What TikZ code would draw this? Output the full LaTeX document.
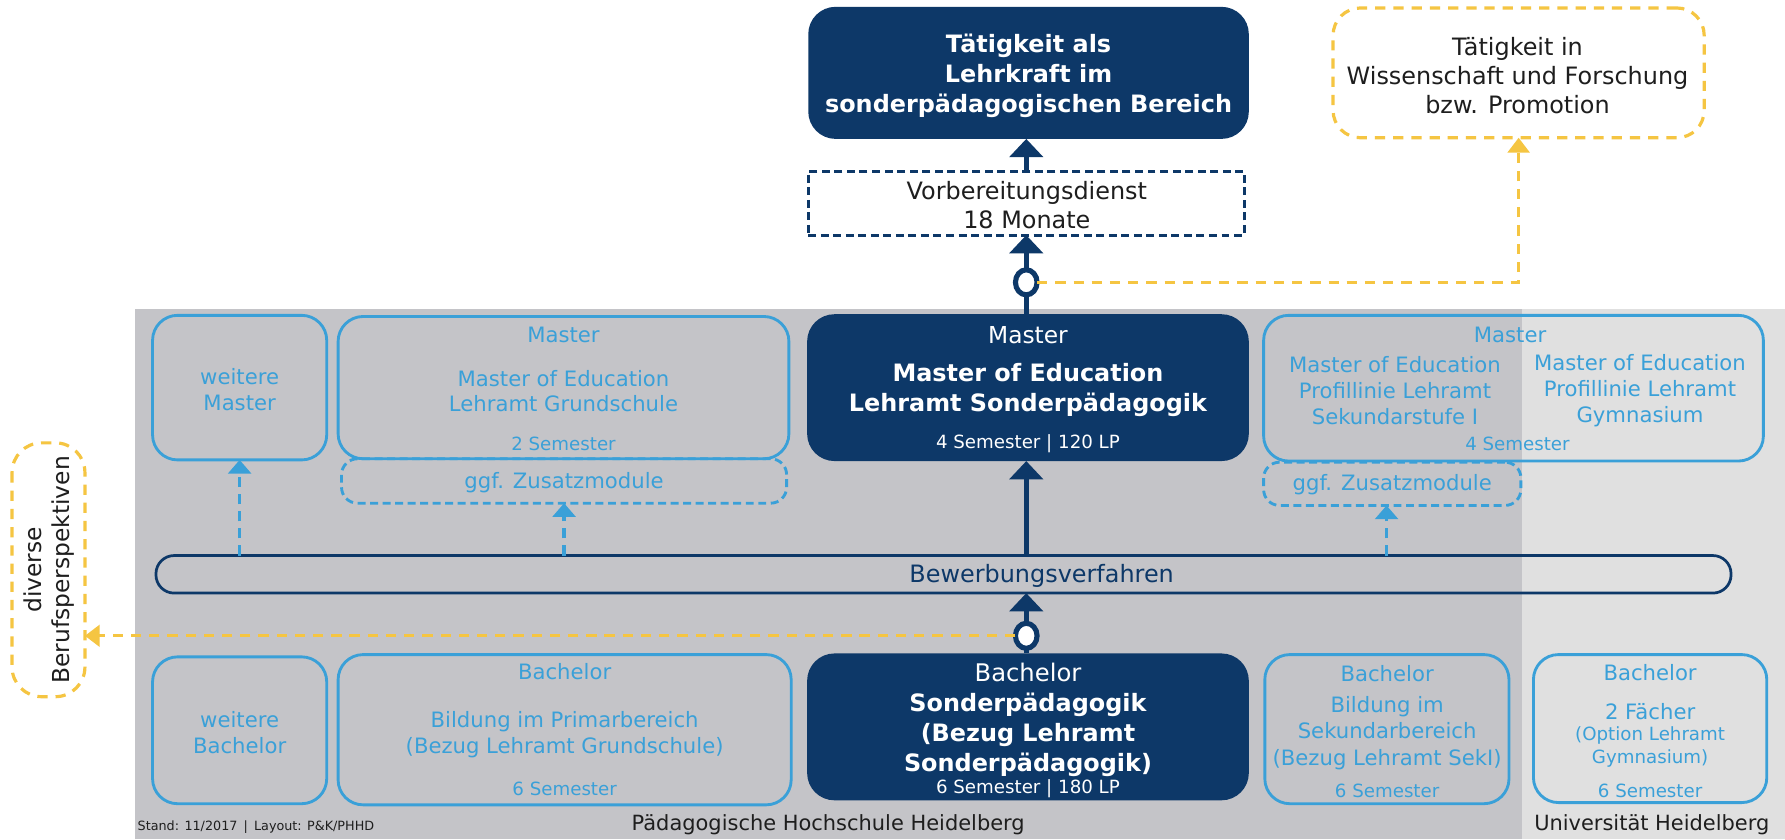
\documentclass[tikz,border=0pt]{standalone}
\usepackage{fontspec}
\setmainfont{DejaVu Sans}
\usetikzlibrary{arrows.meta,shapes.geometric,calc}
\definecolor{navy}{RGB}{13,56,104}
\definecolor{lblue}{RGB}{58,160,216}
\definecolor{bgdark}{RGB}{196,196,200}
\definecolor{bglight}{RGB}{224,224,224}
\definecolor{gold}{RGB}{245,197,66}
\definecolor{ink}{RGB}{30,30,30}
\newcommand{\fsz}[2]{\fontsize{#1}{#2}\selectfont}
\begin{document}
\begin{tikzpicture}[x=1pt,y=-1pt,
  every node/.style={inner sep=0pt,outer sep=0pt},
  lbox/.style={draw=lblue,line width=2.5pt,rounded corners=22pt},
  lbdash/.style={draw=lblue,line width=2.5pt,rounded corners=14pt,dash pattern=on 7pt off 4pt},
  dbox/.style={fill=navy,rounded corners=24pt},
  ybox/.style={draw=gold,line width=2.8pt,rounded corners=24pt,dash pattern=on 9pt off 7pt},
  vbox/.style={draw=navy,line width=2.6pt,dash pattern=on 7pt off 4pt,fill=white},
  bewbox/.style={draw=navy,line width=2.4pt,rounded corners=16pt},
  ring/.style={ellipse,draw=navy,line width=4.5pt,fill=white,minimum width=19pt,minimum height=22pt},
  lt/.style={align=center,text=lblue,font=\fsz{18.6}{22.7}},
  ls/.style={align=center,text=lblue,font=\fsz{16}{20}},
  wb/.style={align=center,text=white,font=\bfseries\fsz{21}{26.5}},
  wr/.style={align=center,text=white,font=\fsz{20.5}{24}},
  ws/.style={align=center,text=white,font=\fsz{16}{20}},
  kt/.style={align=center,text=ink,font=\fsz{21}{25.5}},
  navyline/.style={draw=navy,line width=4pt},
  navyarrow/.style={navyline,-{Triangle[width=29pt,length=16pt]}},
  bluearrow/.style={draw=lblue,line width=2.8pt,dash pattern=on 9pt off 6pt,-{Triangle[width=20pt,length=12pt]}},
  goldarrow/.style={draw=gold,line width=2.8pt,dash pattern=on 9pt off 7pt,-{Triangle[width=19pt,length=13pt]}}
]
\useasboundingbox (0,0) rectangle (1568,737);
\fill[white] (0,0) rectangle (1568,737);
% backgrounds
\fill[bgdark] (118.6,271) rectangle (1568,737);
\fill[bglight] (1337,271) rectangle (1568,737);

% top row
\node[dbox,minimum width=387pt,minimum height=116pt] (top) at (903.5,64) {};
\node[wb] (toptext) at (903.5,66.5) {Tätigkeit als\\Lehrkraft im\\sonderpädagogischen Bereich};
\node[ybox,minimum width=326pt,minimum height=114pt] (yb) at (1334,64) {};
\node[kt] (ybtext) at (1333,66.5) {Tätigkeit in\\Wissenschaft und Forschung\\bzw. Promotion};
\node[vbox,minimum width=383pt,minimum height=56pt] (vorb) at (901.5,178.5) {};
\node[kt] (vorbtext) at (902,180.5) {Vorbereitungsdienst\\18 Monate};

% master row
\node[lbox,minimum width=153pt,minimum height=127pt] (wm) at (210.5,340.5) {};
\node[lt] (wmtext) at (210.5,342.5) {weitere\\Master};

\node[lbox,minimum width=396pt,minimum height=125pt] (gs) at (495,340.5) {};
\node[lt] (gshead) at (495,294) {Master};
\node[lt] (gstext) at (495,343.5) {Master of Education\\Lehramt Grundschule};
\node[ls] (gssem) at (495,390) {2 Semester};
\node[lbdash,minimum width=391pt,minimum height=39pt] (ggf1) at (495.5,422.5) {};
\node[lt] (ggf1text) at (495.5,424) {ggf. Zusatzmodule};

\node[dbox,minimum width=388pt,minimum height=129pt] (dm) at (903,340.5) {};
\node[wr] (dmhead) at (903,294) {Master};
\node[wb] (dmtext) at (903,342.5) {Master of Education\\Lehramt Sonderpädagogik};
\node[ws] (dmsem) at (903,390) {4 Semester | 120 LP};

\node[lbox,minimum width=439pt,minimum height=128pt] (rm) at (1329.5,341) {};
\node[lt] (rmhead) at (1326.5,294) {Master};
\node[lt] (rmleft) at (1225.4,343.3) {Master of Education\\Profillinie Lehramt\\Sekundarstufe I};
\node[lt] (rmright) at (1440.6,343.3) {Master of Education\\Profillinie Lehramt\\Gymnasium};
\node[ls] (rmsem) at (1333,390) {4 Semester};
\node[lbdash,minimum width=226pt,minimum height=38pt] (ggf2) at (1223,425) {};
\node[lt] (ggf2text) at (1223,426) {ggf. Zusatzmodule};

% Bewerbungsverfahren
\node[bewbox,minimum width=1383.6pt,minimum height=33pt] (bew) at (828.8,504.5) {};
\node[align=center,text=navy,font=\fsz{21}{25}] (bewtext) at (915,506) {Bewerbungsverfahren};

% bachelor row
\node[lbox,minimum width=153pt,minimum height=129pt] (wb) at (210.5,641.5) {};
\node[lt] (wbtext) at (210.5,643.5) {weitere\\Bachelor};

\node[lbox,minimum width=398pt,minimum height=132pt] (pb) at (496,641) {};
\node[lt] (pbhead) at (496,590) {Bachelor};
\node[lt] (pbtext) at (496,645) {Bildung im Primarbereich\\(Bezug Lehramt Grundschule)};
\node[ls] (pbsem) at (496,693) {6 Semester};

\node[dbox,minimum width=388pt,minimum height=129pt] (db) at (903,638.5) {};
\node[align=center,text=white,font=\fsz{21.3}{25}] (dbhead) at (903,591) {Bachelor};
\node[wb] (dbtext) at (903,645.5) {Sonderpädagogik\\(Bezug Lehramt\\Sonderpädagogik)};
\node[ws] (dbsem) at (903,693) {6 Semester | 180 LP};

\node[lbox,minimum width=214.5pt,minimum height=131pt] (sb) at (1218.3,640.5) {};
\node[lt] (sbhead) at (1218.5,592) {Bachelor};
\node[lt,font=\fsz{18.6}{23}] (sbtext) at (1218.5,644) {Bildung im\\Sekundarbereich\\(Bezug Lehramt SekI)};
\node[ls] (sbsem) at (1218.5,695) {6 Semester};

\node[lbox,minimum width=205pt,minimum height=130pt] (ub) at (1449.5,640) {};
\node[lt] (ubhead) at (1449.5,591) {Bachelor};
\node[lt] (ubtext) at (1449.5,625) {2 Fächer};
\node[ls] (ubopt) at (1449.5,656) {(Option Lehramt\\Gymnasium)};
\node[ls] (ubsem) at (1449.5,694.5) {6 Semester};

% side box
\node[ybox,rounded corners=26pt,rotate=90,minimum width=223pt,minimum height=64pt] (div) at (42.6,500.5) {};
\node[kt,rotate=90,font=\fsz{20.5}{25}] (divtext) at (43.2,500.5) {diverse\\Berufsperspektiven};

% bottom labels
\node[text=ink,font=\fsz{18.4}{22}] (ph) at (727.5,724.5) {Pädagogische Hochschule Heidelberg};
\node[text=ink,font=\fsz{18.4}{22}] (uh) at (1451,724.5) {Universität Heidelberg};
\node[anchor=west,text=ink,font=\fsz{11.2}{13}] (stand) at (121,727) {Stand: 11/2017 \,|\, Layout: P\&K/PHHD};

% rings
\node[ring] (c1) at (901.5,248) {};
\node[ring] (c2) at (901.5,558.5) {};

% navy connectors
\draw[navyarrow] (vorb.north -| c1) -- (c1 |- top.south);
\draw[navyarrow] (c1.north) -- (c1 |- vorb.south);
\draw[navyline] (c1.south) -- (c1 |- dm.north);
\draw[navyline] (c2.south) -- (c2 |- db.north);
\draw[navyarrow] (c2.north) -- (c2 |- bew.south);
\draw[navyarrow] (bew.north -| c2) -- (c2 |- dm.south);

% gold connectors
\draw[goldarrow] (c1.east) -- (c1.east -| yb.south) -- (yb.south);
\draw[goldarrow] (c2.west) -- (c2.west -| div.south);

% blue dashed connectors
\draw[bluearrow] (bew.north -| wm.south) -- (wm.south);
\draw[bluearrow] (bew.north -| ggf1.south) -- (ggf1.south);
\coordinate (a3) at (1218,425);
\draw[bluearrow] (bew.north -| a3) -- (a3 |- ggf2.south);
\end{tikzpicture}
\end{document}
